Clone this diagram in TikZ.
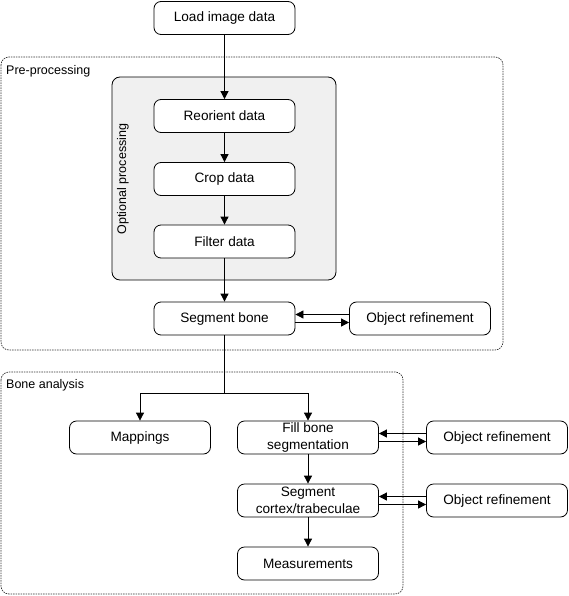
\documentclass[tikz,border=0pt]{standalone}
\usepackage{fontspec}
\setmainfont{Liberation Sans}
\usetikzlibrary{arrows.meta}
\begin{document}
\begin{tikzpicture}[x=1pt,y=-1pt,
  box/.style={draw, rounded corners=7pt, fill=white, minimum width=141pt, minimum height=33pt, inner sep=1pt, align=center, font=\fontsize{13.6}{16.5}\selectfont, line width=0.8pt},
  grp/.style={draw, rounded corners=8pt, dash pattern=on 1.5pt off 1pt, line width=0.7pt, draw=black!80},
  arr/.style={-{Triangle[length=8pt,width=8pt]}, line width=0.8pt},
  lbl/.style={font=\fontsize{12.5}{14}\selectfont, anchor=west, inner sep=0pt}]
\useasboundingbox (0,0) rectangle (568,596);
% groups
\draw[grp] (1,57) rectangle (503,350);
\node[lbl] (lpre) at (6,71) {Pre-processing};
\draw[grp] (1,372) rectangle (403,594);
\node[lbl] (lbone) at (6,385) {Bone analysis};
\draw[rounded corners=8pt, fill=black!6, line width=0.8pt] (112,77) rectangle (336,280);
\node[lbl, anchor=center, rotate=90] (lopt) at (123,179) {Optional processing};
% nodes
\node[box] (load) at (224.5,18) {Load image data};
\node[box] (reor) at (224.5,116) {Reorient data};
\node[box] (crop) at (224.5,179) {Crop data};
\node[box] (filt) at (224.5,241.5) {Filter data};
\node[box] (seg) at (224.5,318.5) {Segment bone};
\node[box] (obj1) at (420,318.5) {Object refinement};
\node[box] (map) at (140,437.5) {Mappings};
\node[box] (fill) at (308,437.5) {Fill bone\\segmentation};
\node[box] (obj2) at (497,437.5) {Object refinement};
\node[box] (cort) at (308,500.5) {Segment\\cortex/trabeculae};
\node[box] (obj3) at (497,500.5) {Object refinement};
\node[box] (meas) at (308,563.5) {Measurements};
% connectors
\draw[arr] (load) -- (reor);
\draw[arr] (reor) -- (crop);
\draw[arr] (crop) -- (filt);
\draw[arr] (filt) -- (seg);
\draw[arr] ([yshift=4pt]obj1.west) -- ([yshift=4pt]seg.east);
\draw[arr] ([yshift=-4pt]seg.east) -- ([yshift=-4pt]obj1.west);
\coordinate (split) at (224.5,393);
\draw[line width=0.8pt] (seg.south) -- (split);
\draw[arr] (split) -| (map.north);
\draw[arr] (split) -| (fill.north);
\draw[arr] ([yshift=4pt]obj2.west) -- ([yshift=4pt]fill.east);
\draw[arr] ([yshift=-4pt]fill.east) -- ([yshift=-4pt]obj2.west);
\draw[arr] (fill) -- (cort);
\draw[arr] ([yshift=4pt]obj3.west) -- ([yshift=4pt]cort.east);
\draw[arr] ([yshift=-4pt]cort.east) -- ([yshift=-4pt]obj3.west);
\draw[arr] (cort) -- (meas);
\end{tikzpicture}
\end{document}
